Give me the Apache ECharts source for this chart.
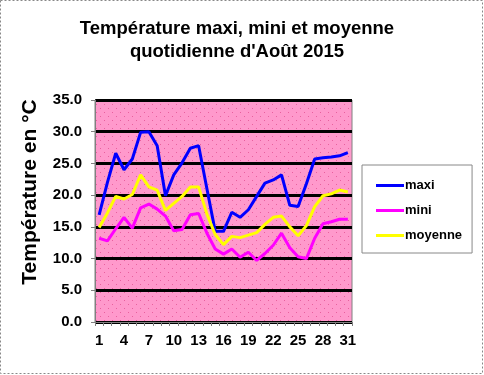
<!DOCTYPE html>
<html>
<head>
<meta charset="utf-8">
<script src="https://cdn.jsdelivr.net/npm/echarts@6/dist/echarts.min.js"></script>
<style>
html,body{margin:0;padding:0;background:#fff;}
#c{width:484px;height:375px;}
</style>
</head>
<body>
<div id="c"></div>
<script>
const days = Array.from({length: 31}, (_, i) => String(i + 1));
const maxi = [16.9, 22.0, 26.6, 24.0, 25.7, 29.9, 30.0, 27.8, 19.9, 23.2, 25.1, 27.4, 27.8, 21.0, 14.3, 14.3, 17.3, 16.5, 17.7, 19.8, 21.9, 22.4, 23.2, 18.4, 18.2, 21.8, 25.7, 25.9, 26.0, 26.2, 26.7];
const mini = [13.2, 12.8, 14.7, 16.5, 14.8, 18.0, 18.6, 17.8, 16.7, 14.4, 14.6, 16.9, 17.1, 14.0, 11.5, 10.7, 11.5, 10.2, 11.0, 9.7, 10.8, 12.1, 14.0, 11.7, 10.3, 10.0, 13.2, 15.5, 15.8, 16.2, 16.2];
const moyenne = [14.9, 17.2, 19.8, 19.4, 20.1, 23.2, 21.3, 20.8, 17.6, 18.7, 19.8, 21.3, 21.3, 17.0, 13.8, 12.2, 13.5, 13.3, 13.7, 14.1, 15.4, 16.5, 16.7, 15.0, 13.6, 15.2, 18.2, 19.9, 20.2, 20.8, 20.5];
const seriesNames = ['maxi', 'mini', 'moyenne'];
const titleText = 'Température maxi, mini et moyenne\nquotidienne d\'Août 2015';
const yName = 'Température en °C';

// dotted pink pattern
const pc = document.createElement('canvas');
pc.width = 8; pc.height = 8;
const px = pc.getContext('2d');
px.fillStyle = '#FF99CC';
px.fillRect(0, 0, 8, 8);
px.fillStyle = '#E8609E';
px.fillRect(0, 0, 1, 1);
px.fillRect(4, 4, 1, 1);

const font = '"Liberation Sans", Arial, sans-serif';
const chart = echarts.init(document.getElementById('c'), null, {renderer: 'canvas'});
chart.setOption({
  animation: false,
  backgroundColor: '#fff',
  title: {
    text: titleText,
    left: 232,
    textAlign: 'center',
    top: 12,
    textStyle: {fontFamily: font, fontWeight: 'bold', fontSize: 18.5, color: '#000', lineHeight: 23}
  },
  graphic: [{
    type: 'rect',
    shape: {x: 0.5, y: 0.5, width: 482, height: 373},
    style: {fill: 'none', stroke: '#888', lineWidth: 1, lineDash: [2, 2]},
    silent: true, z: 100
  }],
  legend: {
    orient: 'vertical',
    left: 362,
    top: 165,
    padding: [14, 10, 11, 14],
    itemGap: 12,
    itemWidth: 28,
    itemHeight: 3,
    icon: 'rect',
    backgroundColor: '#fff',
    borderColor: '#888',
    borderWidth: 1,
    data: seriesNames,
    textStyle: {fontFamily: font, fontWeight: 'bold', fontSize: 13, color: '#000', padding: [0, 0, 0, -4]}
  },
  grid: {
    left: 95, right: 132, top: 100, bottom: 53,
    show: true,
    backgroundColor: {image: pc, repeat: 'repeat'},
    borderColor: '#808080',
    borderWidth: 1
  },
  xAxis: {
    type: 'category',
    data: days,
    boundaryGap: true,
    axisLine: {lineStyle: {color: '#808080', width: 1}},
    axisTick: {show: true, length: 4, lineStyle: {color: '#808080'}, interval: 0},
    axisLabel: {interval: 2, fontFamily: font, fontWeight: 'bold', fontSize: 15, color: '#000', margin: 11},
    splitLine: {show: false}
  },
  yAxis: {
    type: 'value',
    min: 0, max: 35, interval: 5,
    name: yName,
    nameLocation: 'middle',
    nameGap: 54,
    nameTextStyle: {fontFamily: font, fontWeight: 'bold', fontSize: 21, color: '#000', padding: [0, 0, 0, 38]},
    axisLine: {show: true, lineStyle: {color: '#808080', width: 1}},
    axisTick: {show: true, length: 4, lineStyle: {color: '#808080'}},
    axisLabel: {formatter: v => v.toFixed(1), fontFamily: font, fontWeight: 'bold', fontSize: 15, color: '#000', margin: 13},
    splitLine: {show: true, lineStyle: {color: '#000', width: 3}}
  },
  series: [
    {name: seriesNames[0], type: 'line', data: maxi, showSymbol: false, symbol: 'none', lineStyle: {color: '#0000FF', width: 3}, itemStyle: {color: '#0000FF'}},
    {name: seriesNames[1], type: 'line', data: mini, showSymbol: false, symbol: 'none', lineStyle: {color: '#FF00FF', width: 3}, itemStyle: {color: '#FF00FF'}},
    {name: seriesNames[2], type: 'line', data: moyenne, showSymbol: false, symbol: 'none', lineStyle: {color: '#FFFF00', width: 3}, itemStyle: {color: '#FFFF00'}}
  ]
});
</script>
</body>
</html>
